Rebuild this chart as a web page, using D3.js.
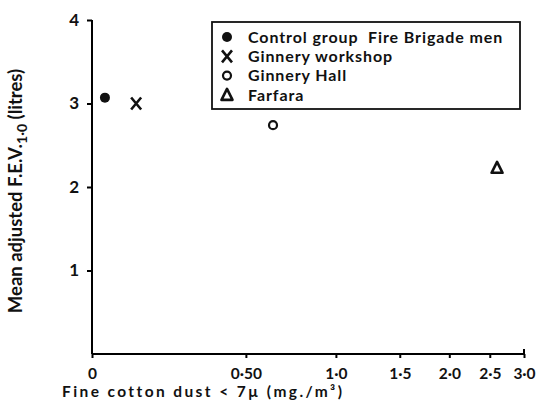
<!DOCTYPE html>
<html>
<head>
<meta charset="utf-8">
<script src="https://cdn.jsdelivr.net/npm/d3@7"></script>
<style>
  body { margin: 0; background: #fff; }
  text { font-family: Lato, "DejaVu Sans", sans-serif; font-weight: bold; fill: #111; }
</style>
</head>
<body>
<div id="chart"></div>
<script>
// data
var groups = ["Control group  Fire Brigade men", "Ginnery workshop", "Ginnery Hall", "Farfara"];
var symbols = ["dot", "cross", "ring", "triangle"];
var dust = [0.03, 0.11, 0.63, 2.6];
var fev = [3.07, 3.0, 2.74, 2.23];
var xTicks = [0, 0.5, 1.0, 1.5, 2.0, 2.5, 3.0];
var xTickLabels = ["0", "0·50", "1·0", "1·5", "2·0", "2·5", "3·0"];
var yTicks = [1, 2, 3, 4];

var W = 538, H = 402;
var margin = { top: 20, right: 14, bottom: 48, left: 92 };
var w = W - margin.left - margin.right;
var h = H - margin.top - margin.bottom;

var svg = d3.select('#chart').append('svg')
    .attr('width', W)
    .attr('height', H);
var g = svg.append('g')
    .attr('transform', 'translate(' + margin.left + ',' + margin.top + ')');

// x axis of the original is log(x + 0.5)
var logScale = d3.scaleLog().domain([0.5, 3.5]).range([0, w]);
var x = function (v) { return logScale(v + 0.5); };
var y = d3.scaleLinear().domain([0, 4]).range([h, 0]);

// axes
var xAxis = d3.axisBottom(logScale)
    .tickValues(xTicks.map(function (v) { return v + 0.5; }))
    .tickFormat(function (d, i) { return xTickLabels[i]; })
    .tickSize(4)
    .tickPadding(10);
var gx = g.append('g')
    .attr('transform', 'translate(0,' + h + ')')
    .call(xAxis);
gx.select('.domain').attr('d', 'M0,0H' + w + 'V-5').attr('stroke-width', 2);
gx.selectAll('.tick line').attr('stroke-width', 2);
gx.selectAll('.tick text').attr('font-size', 15.5).attr('fill', '#111')
    .attr('font-family', 'Lato, sans-serif').attr('font-weight', 'bold');

var yAxis = d3.axisLeft(y)
    .tickValues(yTicks)
    .tickFormat(d3.format('d'))
    .tickSize(5)
    .tickPadding(8);
var gy = g.append('g').call(yAxis);
gy.select('.domain').attr('d', 'M0,' + h + 'V0').attr('stroke-width', 2);
gy.selectAll('.tick line').attr('stroke-width', 2);
gy.selectAll('.tick text').attr('font-size', 17).attr('fill', '#111')
    .attr('font-family', 'Lato, sans-serif').attr('font-weight', 'bold');

// axis labels
g.append('text')
    .attr('x', -30)
    .attr('y', h + 43)
    .attr('font-size', 15.5)
    .attr('letter-spacing', 2.4)
    .text('Fine cotton dust < 7µ (mg./m³)');

var ylab = g.append('text')
    .attr('transform', 'rotate(-90)')
    .attr('x', -171)
    .attr('y', -70)
    .attr('text-anchor', 'middle')
    .attr('font-size', 18.5);
ylab.append('tspan').text('Mean adjusted F.E.V.');
ylab.append('tspan').attr('dy', 5).attr('font-size', 14).text('1·0');
ylab.append('tspan').attr('dy', -5).text(' (litres)');

// marker drawing
function drawSymbol(sel, kind, cx, cy) {
    if (kind === 'dot') {
        sel.append('circle').attr('cx', cx).attr('cy', cy).attr('r', 5).attr('fill', '#111');
    } else if (kind === 'cross') {
        sel.append('path')
            .attr('d', 'M' + (cx - 5) + ',' + (cy - 6) + 'L' + (cx + 5) + ',' + (cy + 6) +
                'M' + (cx + 5) + ',' + (cy - 6) + 'L' + (cx - 5) + ',' + (cy + 6))
            .attr('stroke', '#111').attr('stroke-width', 2.6).attr('fill', 'none');
    } else if (kind === 'ring') {
        sel.append('circle').attr('cx', cx).attr('cy', cy).attr('r', 4)
            .attr('fill', 'none').attr('stroke', '#111').attr('stroke-width', 2.2);
    } else {
        sel.append('path')
            .attr('d', 'M' + cx + ',' + (cy - 6) + 'L' + (cx + 5.5) + ',' + (cy + 5) + 'L' + (cx - 5.5) + ',' + (cy + 5) + 'Z')
            .attr('fill', 'none').attr('stroke', '#111').attr('stroke-width', 2.6).attr('stroke-linejoin', 'round');
    }
}

// points
var pts = g.append('g');
groups.forEach(function (name, i) {
    drawSymbol(pts, symbols[i], x(dust[i]), y(fev[i]));
});

// legend
var leg = svg.append('g').attr('transform', 'translate(212,22)');
leg.append('rect')
    .attr('width', 308).attr('height', 87)
    .attr('fill', 'white').attr('stroke', '#111').attr('stroke-width', 1.8);
groups.forEach(function (name, i) {
    var ry = 15 + i * 19.3;
    drawSymbol(leg, symbols[i], 15, ry);
    leg.append('text')
        .attr('x', 36).attr('y', ry)
        .attr('dy', '0.36em')
        .attr('font-size', 16)
        .attr('letter-spacing', 0.9)
        .style('white-space', 'pre')
        .text(name);
});
</script>
</body>
</html>
